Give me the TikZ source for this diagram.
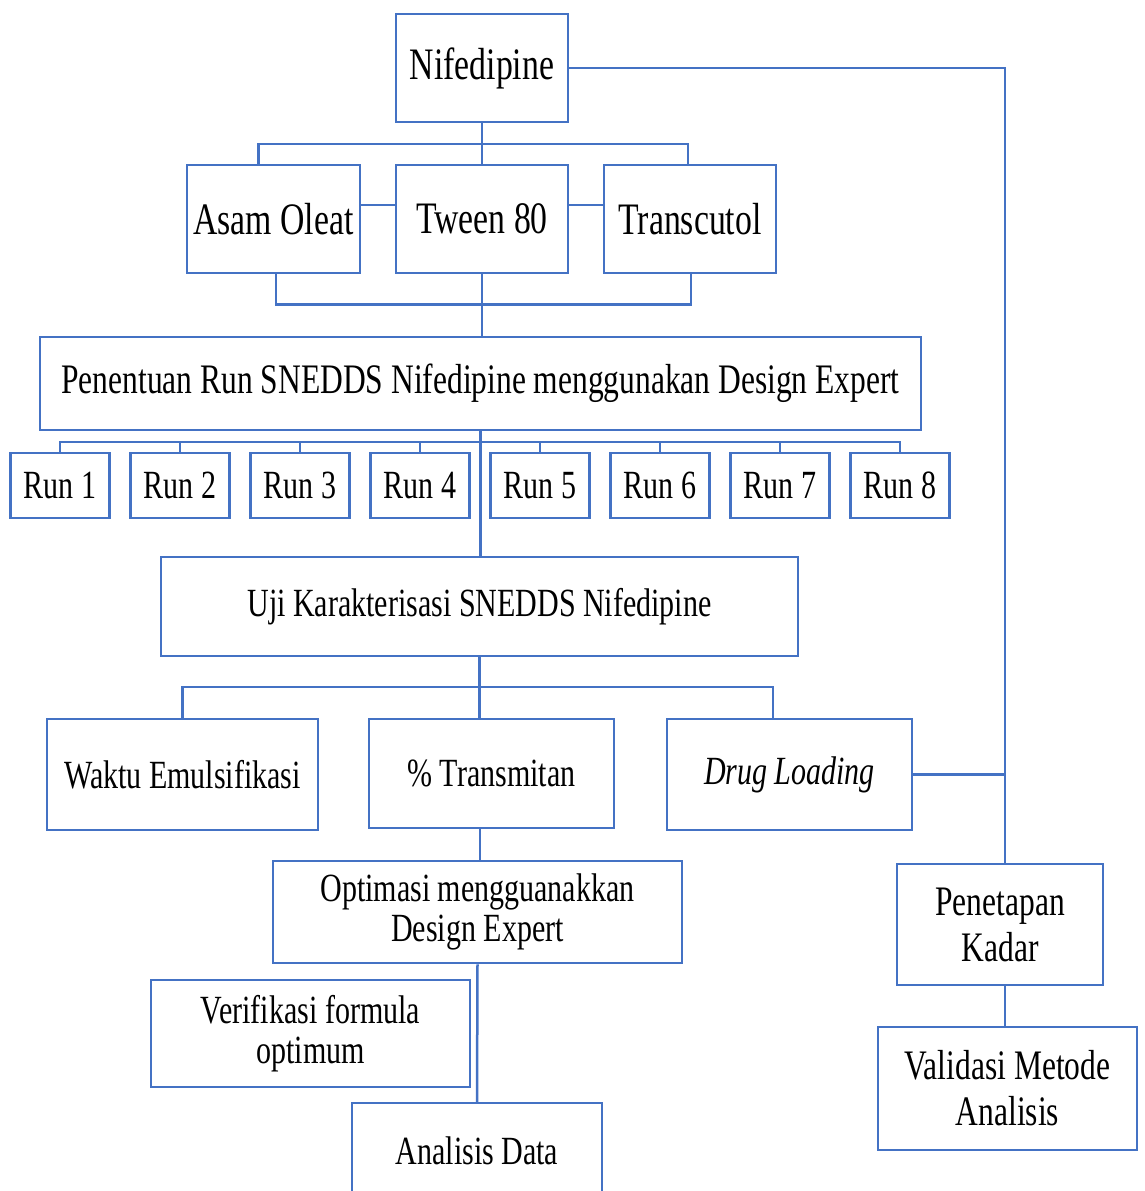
\documentclass[tikz,border=0pt]{standalone}
\usepackage{fontspec}
\setmainfont{Liberation Serif}[FakeStretch=0.75]
\usepackage{tikz}
\definecolor{linecol}{HTML}{4472C4}

\begin{document}
\begin{tikzpicture}[x=1pt,y=-1pt]

      \useasboundingbox (0,0) rectangle (1145,1191);
      \clip (0,0) rectangle (1145,1191);

      \begin{scope}[every node/.style={draw=linecol,line width=2.5pt,inner sep=0pt,
          align=center,fill=white,font=\fontsize{40}{40}\selectfont}]
        \node[minimum width=172,minimum height=108,font=\fontsize{45}{45}\selectfont] (nif) at (482,68) {Nifedipine};
        \node[minimum width=173,minimum height=108,font=\fontsize{45}{45}\selectfont] (asam) at (273.5,219) {Asam Oleat};
        \node[minimum width=172,minimum height=108,font=\fontsize{45}{45}\selectfont] (tween) at (482,219) {Tween 80};
        \node[minimum width=172,minimum height=108,font=\fontsize{45}{45}\selectfont] (trans) at (690,219) {Transcutol};

        \node[minimum width=881,minimum height=93,font=\fontsize{42}{42}\selectfont] (pen) at (480.5,383.5)
          {Penentuan Run SNEDDS Nifedipine menggunakan Design Expert};

        \foreach \i in {1,...,8}
          \node[minimum width=99,minimum height=65] (r\i) at ({60+120*(\i-1)},485.5) {Run \i};

        \node[minimum width=637,minimum height=99] (uji) at (479.5,606.5) {Uji Karakterisasi SNEDDS Nifedipine};

        \node[minimum width=271,minimum height=111] (waktu) at (182.5,774.5) {Waktu Emulsifikasi};
        \node[minimum width=245,minimum height=109] (trm) at (491.5,773.5) {\% Transmitan};
        \node[minimum width=245,minimum height=111] (drug) at (789.5,774.5) {\textit{Drug Loading}};

        \node[minimum width=409,minimum height=102] (opt) at (477.5,912) {Optimasi mengguanakkan\\Design Expert};
        \node[minimum width=319,minimum height=107] (ver) at (310.5,1033.5) {Verifikasi formula\\optimum};
        \node[minimum width=250,minimum height=96] (ana) at (477,1151) {Analisis Data};

        \node[minimum width=206,minimum height=121,font=\fontsize{42}{46}\selectfont] (kad) at (1000,924.5) {Penetapan\\Kadar};
        \node[minimum width=259,minimum height=123,font=\fontsize{42}{46}\selectfont] (val) at (1007.5,1088.5) {Validasi Metode\\Analisis};
      \end{scope}

      \coordinate (rt) at (1005,68);

      \begin{scope}[every path/.style={draw=linecol,line width=2.5pt}]
        % bahan
        \draw (nif.south) -- (tween.north);
        \draw ([xshift=-15pt]asam.north) -- ++(0,-20) -| ([xshift=-2pt]trans.north);
        \draw ([yshift=14pt]asam.east) -- ([yshift=14pt]tween.west);
        \draw ([yshift=14pt]tween.east) -- ([yshift=14pt]trans.west);
        \draw ([xshift=2.5pt]asam.south) -- ++(0,30) -| ([xshift=1pt]trans.south);
        \draw (tween.south) -- (tween.south |- pen.north);

        % run
        \draw (r1.north) -- ++(0,-10) -| (r8.north);
        \foreach \i in {2,...,7}
          \draw (r\i.north) -- ++(0,-10);
        \draw (pen.south) -- (pen.south |- uji.north);

        % karakterisasi
        \draw (waktu.north) -- ++(0,-31) -| ([xshift=-16.5pt]drug.north);
        \draw (uji.south) -- (uji.south |- trm.north);
        \draw ([xshift=-11.5pt]trm.south) -- ([xshift=-11.5pt]trm.south |- opt.north);
        \draw (opt.south) -- (ana.north);

        % kadar
        \draw (nif.east) -- (rt) -- (rt |- kad.north);
        \draw (drug.east) -- (drug.east -| rt);
        \draw (kad.south -| rt) -- (val.north -| rt);
      \end{scope}

    \end{tikzpicture}
\end{document}
